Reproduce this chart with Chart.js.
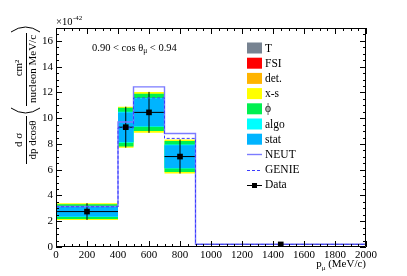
<!DOCTYPE html>
<html>
<head>
<meta charset="utf-8">
<script src="https://cdn.jsdelivr.net/npm/chart.js@4.4.0/dist/chart.umd.min.js"></script>
<style>
  html, body { margin: 0; padding: 0; background: #fff; }
  #wrap { width: 407px; height: 276px; }
</style>
</head>
<body>
<div id="wrap"><canvas id="xsecChart" width="407" height="276"></canvas></div>
<script>
// bins in p_mu (MeV/c)
const binEdges = [0, 400, 500, 700, 900, 2000];
const binCentres = [200, 450, 600, 800, 1450];

// measured cross section, units of 1e-42
const dataValues = [2.75, 9.3, 10.45, 7.02, 0.2];
const dataErrors = [0.65, 1.59, 1.59, 1.32, 0.05];

// half widths of the nested error bands (only first four bins are visible)
const xsBand = [0.65, 1.59, 1.59, 1.32];
const phiBand = [0.57, 1.5, 1.45, 1.2];
const algoBand = [0.42, 1.2, 1.12, 0.93];
const statBand = [0.38, 1.15, 1.07, 0.88];

// generator predictions
const neutValues = [3.15, 9.7, 12.43, 8.81, 0.22];
const genieValues = [3.12, 9.25, 11.57, 8.43, 0.2];

// axis ticks
const xTickValues = [0, 200, 400, 600, 800, 1000, 1200, 1400, 1600, 1800, 2000];
const yTickValues = [0, 2, 4, 6, 8, 10, 12, 14, 16];

const serif = "'Liberation Serif', 'DejaVu Serif', serif";

// histogram outline: two points per bin
function stepPoints(edges, values) {
    const pts = [];
    values.forEach((v, i) => {
        pts.push({ x: edges[i], y: v }, { x: edges[i + 1], y: v });
    });
    return pts;
}

function bandPoints(band, sign) {
    return stepPoints(binEdges, band.map((w, i) => dataValues[i] + sign * w));
}

// error bar crosses, separated by gaps
function errorBarPoints() {
    const pts = [];
    binCentres.forEach((c, i) => {
        pts.push({ x: c, y: dataValues[i] - dataErrors[i] });
        pts.push({ x: c, y: dataValues[i] + dataErrors[i] });
        pts.push({ x: c, y: null });
        pts.push({ x: binEdges[i], y: dataValues[i] });
        pts.push({ x: binEdges[i + 1], y: dataValues[i] });
        pts.push({ x: binEdges[i + 1], y: null });
    });
    return pts;
}

function band(label, color, widths, order) {
    return [{
        label: label,
        legendKind: 'box',
        data: bandPoints(widths, 1),
        backgroundColor: color,
        borderColor: 'rgba(0,0,0,0)',
        borderWidth: 0,
        pointRadius: 0,
        fill: '+1',
        order: order
    }, {
        label: label + ' low',
        data: bandPoints(widths, -1),
        borderColor: 'rgba(0,0,0,0)',
        borderWidth: 0,
        pointRadius: 0,
        fill: false,
        order: 20
    }];
}

function legendOnly(label, color) {
    return { label: label, legendKind: 'box', data: [], backgroundColor: color, borderColor: color, order: 30 };
}

const datasets = [
    legendOnly('T', '#778391'),
    legendOnly('FSI', '#ff0000'),
    legendOnly('det.', '#ffb400'),
    ...band('x-s', '#ffff00', xsBand, 7),
    ...band('\u03D5', '#00f050', phiBand, 6),
    ...band('algo', '#00ffff', algoBand, 5),
    ...band('stat', '#00b4ff', statBand, 4),
    {
        label: 'NEUT',
        legendKind: 'line',
        data: stepPoints(binEdges, neutValues),
        borderColor: '#7b7bff',
        borderWidth: 1.4,
        pointRadius: 0,
        fill: false,
        order: 2
    },
    {
        label: 'GENIE',
        legendKind: 'dash',
        data: stepPoints(binEdges, genieValues),
        borderColor: '#3c3cff',
        borderWidth: 1,
        borderDash: [3, 2],
        pointRadius: 0,
        fill: false,
        order: 1
    },
    {
        label: 'errors',
        data: errorBarPoints(),
        borderColor: '#000',
        borderWidth: 1,
        pointRadius: 0,
        fill: false,
        spanGaps: false,
        order: 3
    },
    {
        label: 'Data',
        legendKind: 'marker',
        data: binCentres.map((c, i) => ({ x: c, y: dataValues[i] })),
        showLine: false,
        pointStyle: 'rect',
        pointRadius: 4,
        pointBackgroundColor: '#000',
        pointBorderColor: '#000',
        pointBorderWidth: 0,
        order: 0
    }
];

// ROOT style frame with inward ticks on all four sides
const frameTicks = {
    id: 'frameTicks',
    afterDraw(chart) {
        const { ctx, chartArea: a, scales: { x, y } } = chart;
        ctx.save();
        ctx.strokeStyle = '#000';
        ctx.lineWidth = 1;
        ctx.beginPath();
        ctx.rect(a.left + 0.5, a.top + 0.5, a.right - a.left - 1, a.bottom - a.top - 1);
        for (let v = 0; v <= 2000; v += 50) {
            const px = Math.round(x.getPixelForValue(v)) + 0.5;
            const len = v % 200 === 0 ? 6 : 3;
            ctx.moveTo(px, a.bottom); ctx.lineTo(px, a.bottom - len);
            ctx.moveTo(px, a.top); ctx.lineTo(px, a.top + len);
        }
        for (let v = 0; v <= 17; v += 0.5) {
            const py = Math.round(y.getPixelForValue(v)) + 0.5;
            const len = v % 2 === 0 ? 6 : 3;
            ctx.moveTo(a.left, py); ctx.lineTo(a.left + len, py);
            ctx.moveTo(a.right, py); ctx.lineTo(a.right - len, py);
        }
        ctx.stroke();
        ctx.restore();
    }
};

function rotText(ctx, text, sx, sy, size) {
    ctx.save();
    ctx.translate(sx, sy);
    ctx.rotate(-Math.PI / 2);
    ctx.font = size + 'px ' + serif;
    ctx.textAlign = 'center';
    ctx.textBaseline = 'middle';
    ctx.fillText(text, 0, 0);
    ctx.restore();
}

// titles, exponent and the angle annotation
const rootText = {
    id: 'rootText',
    afterDraw(chart) {
        const { ctx, chartArea: a } = chart;
        ctx.save();
        ctx.fillStyle = '#000';
        ctx.strokeStyle = '#000';
        ctx.lineWidth = 1;

        // y title: d sigma / dp dcos(theta) ( cm2 / nucleon MeV/c )
        rotText(ctx, 'd \u03C3', 19, 140, 11);
        rotText(ctx, 'dp dcos\u03B8', 33, 140, 11);
        rotText(ctx, 'cm\u00B2', 19, 68, 11);
        rotText(ctx, 'nucleon MeV/c', 33, 69, 11);
        ctx.beginPath();
        ctx.moveTo(26.5, 116); ctx.lineTo(26.5, 164);
        ctx.moveTo(26.5, 33); ctx.lineTo(26.5, 106);
        // big brackets
        ctx.moveTo(11, 108); ctx.quadraticCurveTo(25.5, 118, 40, 108);
        ctx.moveTo(11, 32); ctx.quadraticCurveTo(25.5, 22, 40, 32);
        ctx.stroke();

        // exponent of y axis
        ctx.textBaseline = 'alphabetic';
        ctx.textAlign = 'left';
        ctx.font = '10.5px ' + serif;
        ctx.fillText('\u00D710', a.left, 25);
        const wx = ctx.measureText('\u00D710').width;
        ctx.font = '7px ' + serif;
        ctx.fillText('-42', a.left + wx + 0.5, 20);

        // angular slice label
        ctx.font = '10.5px ' + serif;
        let px = 92;
        const base = 51;
        const part1 = '0.90 < cos \u03B8';
        ctx.fillText(part1, px, base);
        px += ctx.measureText(part1).width;
        ctx.font = '7.5px ' + serif;
        ctx.fillText('\u03BC', px, base + 2);
        px += ctx.measureText('\u03BC').width;
        ctx.font = '10.5px ' + serif;
        ctx.fillText(' < 0.94', px, base);

        // x title, right aligned on the frame
        ctx.font = '11px ' + serif;
        const tail = ' (MeV/c)';
        const wTail = ctx.measureText(tail).width;
        const wP = ctx.measureText('p').width;
        ctx.font = '7px ' + serif;
        const wMu = ctx.measureText('\u03BC').width;
        let tx = a.right - wTail - wMu - wP;
        ctx.font = '11px ' + serif;
        ctx.fillText('p', tx, 267);
        tx += wP;
        ctx.font = '7px ' + serif;
        ctx.fillText('\u03BC', tx, 270);
        tx += wMu;
        ctx.font = '11px ' + serif;
        ctx.fillText(tail, tx, 267);
        ctx.restore();
    }
};

// legend inside the frame
const rootLegend = {
    id: 'rootLegend',
    afterDraw(chart) {
        const ctx = chart.ctx;
        const items = chart.data.datasets.filter(d => d.legendKind);
        const boxX = 247, boxW = 15, boxH = 11, textX = 265;
        let cy = 48;
        ctx.save();
        ctx.font = '11.5px ' + serif;
        ctx.textBaseline = 'middle';
        ctx.textAlign = 'left';
        items.forEach(d => {
            if (d.legendKind === 'box') {
                ctx.fillStyle = d.backgroundColor;
                ctx.fillRect(boxX, cy - boxH / 2, boxW, boxH);
            } else {
                ctx.strokeStyle = d.legendKind === 'marker' ? '#000' : d.borderColor;
                ctx.lineWidth = d.legendKind === 'line' ? 1.4 : 1;
                ctx.setLineDash(d.legendKind === 'dash' ? [3, 2] : []);
                ctx.beginPath();
                ctx.moveTo(boxX, Math.round(cy) + 0.5);
                ctx.lineTo(boxX + boxW, Math.round(cy) + 0.5);
                ctx.stroke();
                ctx.setLineDash([]);
                if (d.legendKind === 'marker') {
                    ctx.fillStyle = '#000';
                    ctx.fillRect(boxX + boxW / 2 - 2.5, Math.round(cy) - 2, 5, 5);
                }
            }
            ctx.fillStyle = '#000';
            ctx.fillText(d.label, textX, cy + 0.5);
            cy += 15.2;
        });
        ctx.restore();
    }
};

const ctx = document.getElementById('xsecChart').getContext('2d');

new Chart(ctx, {
    type: 'line',
    data: { datasets: datasets },
    options: {
        responsive: false,
        animation: false,
        layout: { padding: { left: 0, right: 41, top: 28, bottom: 0 } },
        plugins: {
            legend: { display: false },
            tooltip: { enabled: false }
        },
        scales: {
            x: {
                type: 'linear',
                min: 0,
                max: 2000,
                afterFit(scale) { scale.height = 29; },
                afterBuildTicks(scale) { scale.ticks = xTickValues.map(v => ({ value: v })); },
                grid: { display: false, drawTicks: false },
                border: { display: false },
                ticks: {
                    color: '#000',
                    padding: 2,
                    maxRotation: 0,
                    autoSkip: false,
                    font: { family: serif, size: 11 },
                    callback: v => String(v)
                }
            },
            y: {
                type: 'linear',
                min: 0,
                max: 17,
                afterFit(scale) { scale.width = 56; },
                afterBuildTicks(scale) { scale.ticks = yTickValues.map(v => ({ value: v })); },
                grid: { display: false, drawTicks: false },
                border: { display: false },
                ticks: {
                    color: '#000',
                    padding: 3,
                    font: { family: serif, size: 11 },
                    callback: v => String(v)
                }
            }
        }
    },
    plugins: [frameTicks, rootText, rootLegend]
});
</script>
</body>
</html>
